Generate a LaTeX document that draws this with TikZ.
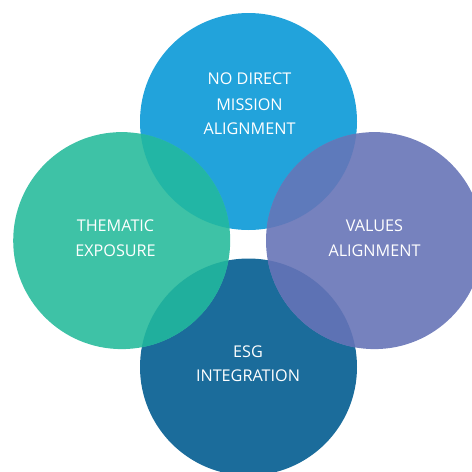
\documentclass[tikz,border=0pt]{standalone}
\usepackage{fontspec}
\setmainfont{Open Sans}
\definecolor{ctop}{HTML}{22A3DB}
\definecolor{cleft}{HTML}{3EC2A6}
\definecolor{cright}{HTML}{7682BE}
\definecolor{cbottom}{HTML}{1B6C9B}
\definecolor{ctl}{HTML}{22B6A5}
\definecolor{cbl}{HTML}{20AF9D}
\definecolor{ctr}{HTML}{5E7ABB}
\definecolor{cbr}{HTML}{5D72B4}
\tikzset{
  label/.style={text=white, font=\fontsize{16.2}{25}\selectfont, anchor=base, inner sep=0pt},
}
\begin{document}
\begin{tikzpicture}[x=1pt,y=-1pt]
\useasboundingbox (0,0) rectangle (472,472);
\clip (0,0) rectangle (472,472);
\def\R{108.5}
\coordinate (top) at (248.5,121.5);
\coordinate (bottom) at (248.5,367);
\coordinate (left) at (121.7,240.6);
\coordinate (right) at (374.5,240.6);
\fill[ctop] (top) circle (\R);
\fill[cbottom] (bottom) circle (\R);
\fill[cleft] (left) circle (\R);
\fill[cright] (right) circle (\R);
\begin{scope}
  \clip (top) circle (\R);
  \fill[ctl] (left) circle (\R);
  \fill[ctr] (right) circle (\R);
\end{scope}
\begin{scope}
  \clip (bottom) circle (\R);
  \fill[cbl] (left) circle (\R);
  \fill[cbr] (right) circle (\R);
\end{scope}
\node[label] (t1) at (249.5,84) {NO DIRECT};
\node[label] (t2) at (249.5,110) {MISSION};
\node[label] (t3) at (249.5,134) {ALIGNMENT};
\node[label] (l1) at (115.5,231) {THEMATIC};
\node[label] (l2) at (115.5,256) {EXPOSURE};
\node[label] (r1) at (374.5,231) {VALUES};
\node[label] (r2) at (374.5,256) {ALIGNMENT};
\node[label] (b1) at (248,357) {ESG};
\node[label] (b2) at (248,381.5) {INTEGRATION};
\end{tikzpicture}
\end{document}
